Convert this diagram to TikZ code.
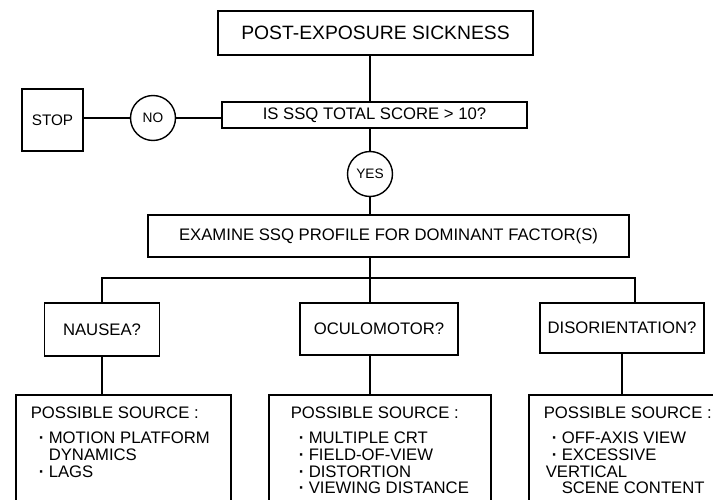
\documentclass[tikz,border=0pt]{standalone}
\usepackage{fontspec}
\setmainfont{Liberation Sans}
\newcommand{\vineta}[1]{\mbox{\hspace*{0.16cm}\makebox[0.2cm][l]{\bfseries ·}#1}}
\newcommand{\sangria}[1]{\mbox{\hspace*{0.36cm}#1}}

\begin{document}
\begin{tikzpicture}[x=0.02cm, y=-0.02cm,
    caja/.style={draw, line width=0.9pt, inner sep=0pt, font=\fontsize{9.5}{11}\selectfont},
    circulo/.style={draw, circle, line width=0.8pt, minimum size=0.9cm, inner sep=0pt, font=\fontsize{7.8}{9}\selectfont},
    fuente/.style={draw, line width=0.9pt, anchor=north west, inner xsep=0.3cm, inner ysep=0.24cm, font=\fontsize{9.5}{9.6}\selectfont},
    linea/.style={line width=0.8pt}]
    % Marco
    \path[use as bounding box, clip] (0,0) rectangle (713,500);
    % Parte superior
    \node[caja, minimum width=6.3cm, minimum height=0.88cm, font=\fontsize{11}{13}\selectfont] (post) at (375.5,33) {POST-EXPOSURE SICKNESS};
    \node[caja, minimum width=6.1cm, minimum height=0.52cm] (pregunta) at (374.5,115) {IS SSQ TOTAL SCORE > 10?};
    \node[circulo] (no) at (153,118) {NO};
    \node[caja, minimum width=1.22cm, minimum height=1.24cm, font=\fontsize{8.7}{10}\selectfont] (stop) at (52.5,120) {STOP};
    \node[circulo] (si) at (370,174) {YES};
    \node[caja, minimum width=9.62cm, minimum height=0.84cm] (examinar) at (388.5,236) {EXAMINE SSQ PROFILE FOR DOMINANT FACTOR(S)};
    % Factores
    \coordinate (rama) at (370,278);
    \coordinate (ramaD) at (635,278);
    \node[caja, minimum width=2.3cm, minimum height=1.06cm] (nausea) at (102,329.5) {NAUSEA?};
    \node[caja, minimum width=3.16cm, minimum height=1.04cm] (oculo) at (379,329) {OCULOMOTOR?};
    \node[caja, minimum width=3.28cm, minimum height=1.0cm] (desor) at (622,328) {DISORIENTATION?};
    % Posibles fuentes
    \node[fuente] (fuente1) at (15,394) {\parbox[t][2.6cm][t]{3.7cm}{POSSIBLE SOURCE :\\[4.6pt]
        \vineta{MOTION PLATFORM}\\
        \sangria{DYNAMICS}\\
        \vineta{LAGS}}};
    \node[fuente, inner xsep=0.44cm] (fuente2) at (268,394) {\parbox[t][2.6cm][t]{3.56cm}{POSSIBLE SOURCE :\\[4.6pt]
        \vineta{MULTIPLE CRT}\\
        \vineta{FIELD-OF-VIEW}\\
        \vineta{DISTORTION}\\
        \vineta{VIEWING DISTANCE}}};
    \node[fuente] (fuente3) at (528,394) {\parbox[t][2.6cm][t]{3.4cm}{POSSIBLE SOURCE :\\[4.6pt]
        \vineta{OFF-AXIS VIEW}\\
        \vineta{EXCESSIVE}\\
        \mbox{\hspace*{0.04cm}VERTICAL}\\
        \sangria{SCENE CONTENT}}};
    % Conectores
    \draw[linea] (post.south -| si) -- (pregunta.north -| si);
    \draw[linea] (pregunta.south -| si) -- (si);
    \draw[linea] (si) -- (si |- examinar.north);
    \draw[linea] (pregunta.west |- no) -- (no);
    \draw[linea] (no) -- (no -| stop.east);
    % Ramas
    \draw[linea] (examinar.south -| rama) -- (rama);
    \draw[linea] (nausea.north) |- (ramaD) -- (ramaD |- desor.north);
    \draw[linea] (rama) -- (rama |- oculo.north);
    \draw[linea] (nausea) -- (nausea |- fuente1.north);
    \draw[linea] (oculo.south -| rama) -- (rama |- fuente2.north);
    \draw[linea] (desor) -- (desor |- fuente3.north);
\end{tikzpicture}
\end{document}
